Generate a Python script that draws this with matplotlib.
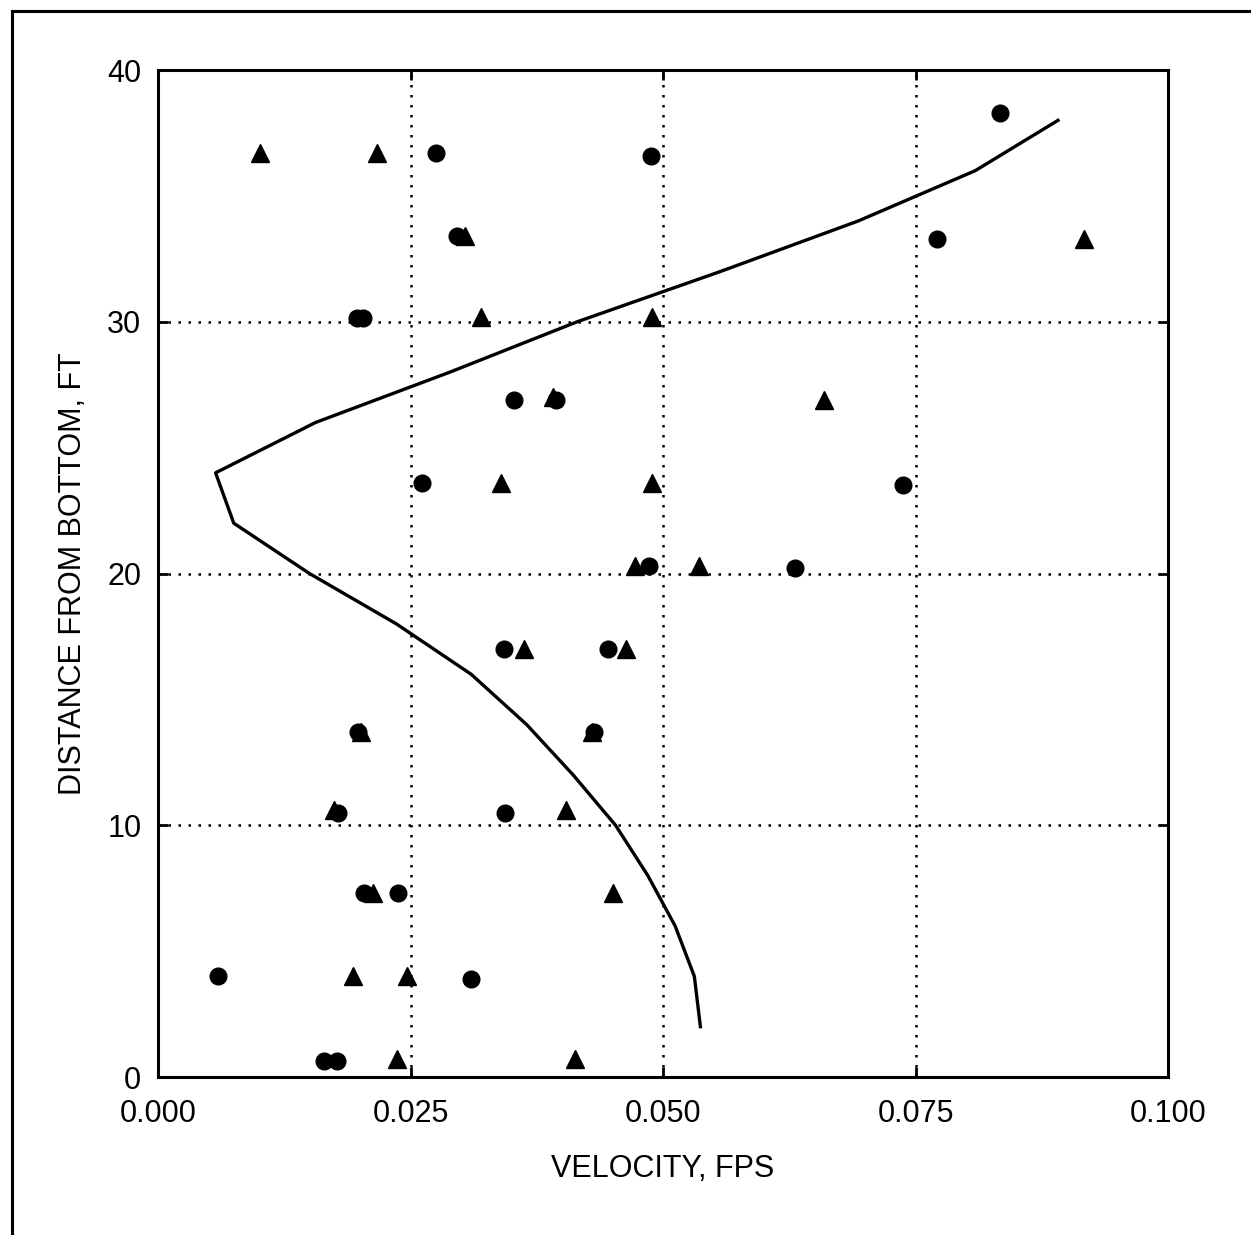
import matplotlib
matplotlib.use('Agg')
import matplotlib.pyplot as plt
from matplotlib.lines import Line2D

plt.rcParams['font.family'] = ['Liberation Sans', 'DejaVu Sans']

# velocity profile (curve)
curve_dist = [2, 4, 6, 8, 10, 12, 14, 16, 18, 20, 22, 24, 26, 28, 30, 32, 34, 36, 38]
curve_vel = [0.0537, 0.0531, 0.0512, 0.0485, 0.0453, 0.0411, 0.0365, 0.0310, 0.0236,
             0.0150, 0.0075, 0.0057, 0.0156, 0.0289, 0.0415, 0.0557, 0.0693, 0.0809, 0.0891]

# measured points, circles
circ_vel = [0.0834, 0.0275, 0.0488, 0.0296, 0.0771, 0.0197, 0.0203, 0.0352, 0.0394,
            0.0261, 0.0738, 0.0486, 0.0631, 0.0343, 0.0446, 0.0198, 0.0432, 0.0178,
            0.0344, 0.0204, 0.0238, 0.0059, 0.0310, 0.0164, 0.0177]
circ_dist = [38.3, 36.7, 36.6, 33.4, 33.3, 30.15, 30.15, 26.9, 26.9,
             23.6, 23.5, 20.3, 20.2, 17.0, 17.0, 13.7, 13.7, 10.5,
             10.5, 7.3, 7.3, 4.0, 3.9, 0.65, 0.65]

# measured points, triangles
tri_vel = [0.0101, 0.0217, 0.0304, 0.0917, 0.0320, 0.0489, 0.0391, 0.0659, 0.0340,
           0.0489, 0.0472, 0.0536, 0.0362, 0.0463, 0.0201, 0.0430, 0.0174, 0.0404,
           0.0213, 0.0450, 0.0193, 0.0247, 0.0237, 0.0413]
tri_dist = [36.7, 36.7, 33.4, 33.3, 30.2, 30.2, 27.0, 26.9, 23.6,
            23.6, 20.3, 20.3, 17.0, 17.0, 13.7, 13.7, 10.6, 10.6,
            7.3, 7.3, 4.0, 4.0, 0.7, 0.7]

x_ticks = [0.0, 0.025, 0.05, 0.075, 0.1]
x_ticklabels = ['0.000', '0.025', '0.050', '0.075', '0.100']
y_ticks = [0, 10, 20, 30, 40]

fig = plt.figure(figsize=(12.51, 12.35), dpi=100)
ax = fig.add_axes([0.1263, 0.1279, 0.8074, 0.8154])

ax.plot(curve_vel, curve_dist, color='black', linewidth=2.4, zorder=3)
ax.plot(circ_vel, circ_dist, 'o', color='black', markersize=12, zorder=4)
ax.plot(tri_vel, tri_dist, '^', color='black', markersize=13, zorder=4)

ax.set_xlim(0, 0.1)
ax.set_ylim(0, 40)
ax.set_xticks(x_ticks)
ax.set_xticklabels(x_ticklabels)
ax.set_yticks(y_ticks)

# dotted grid on the inner lines only
for xv in x_ticks[1:-1]:
    ax.axvline(xv, color='black', linewidth=1.8, linestyle=(0, (1, 3)), zorder=1)
for yv in y_ticks[1:-1]:
    ax.axhline(yv, color='black', linewidth=1.8, linestyle=(0, (1, 3)), zorder=1)

for s in ax.spines.values():
    s.set_linewidth(2.2)
ax.tick_params(direction='in', length=7, width=2, top=True, right=True, labelsize=22)
ax.tick_params(axis='x', pad=16)
ax.tick_params(axis='y', pad=12)

ax.set_xlabel('VELOCITY, FPS', fontsize=22, labelpad=18)
ax.set_ylabel('DISTANCE FROM BOTTOM, FT', fontsize=22, labelpad=14)

# outer frame (left and top edges)
fig.add_artist(Line2D([0.0092, 0.0092], [0, 0.9907], transform=fig.transFigure,
                      color='black', linewidth=2.2))
fig.add_artist(Line2D([0.0092, 1.0], [0.9907, 0.9907], transform=fig.transFigure,
                      color='black', linewidth=2.2))

fig.savefig('out.png', dpi=100)
